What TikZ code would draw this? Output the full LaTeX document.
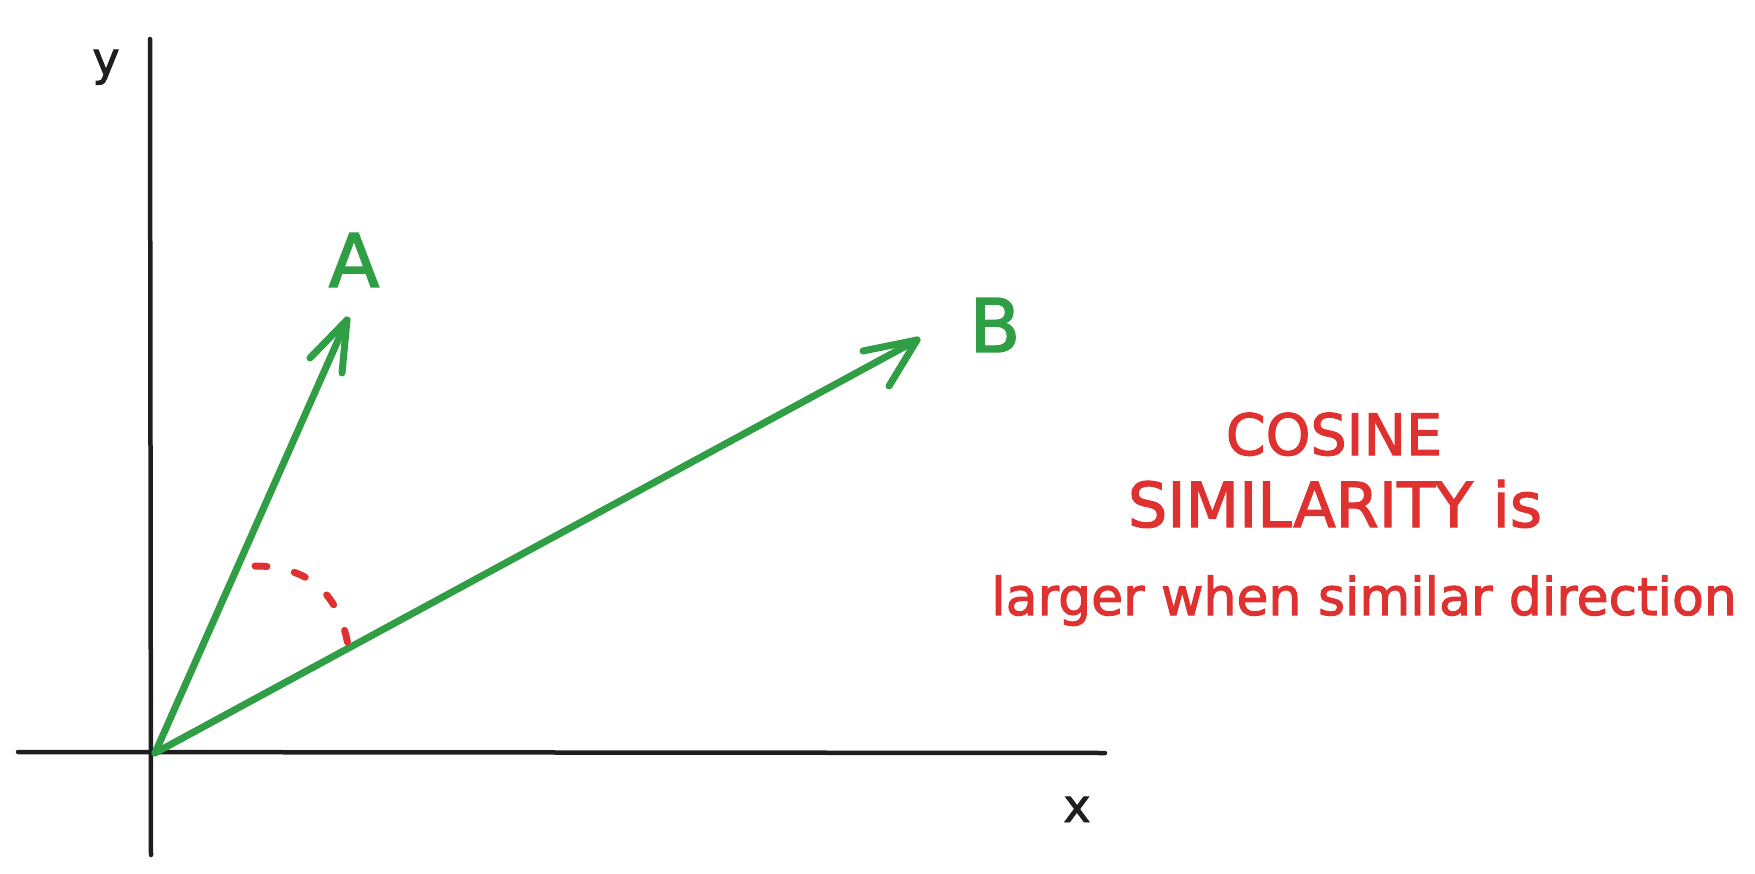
\documentclass[tikz,border=0pt]{standalone}
\usepackage{fontspec}
\setmainfont{DejaVu Sans}
\newfontfamily\handfont[FakeBold=2]{DejaVu Sans}
\definecolor{inkblack}{HTML}{1E1E1E}
\definecolor{inkgreen}{HTML}{2F9E44}
\definecolor{inkred}{HTML}{E03131}
\tikzset{
  axisline/.style={draw=inkblack, line width=4.5pt, line cap=round},
  vecline/.style={draw=inkgreen, line width=7pt, line cap=round, line join=round},
  anglearc/.style={draw=inkred, line width=7pt, line cap=round, dash pattern=on 12pt off 28pt},
  axislabel/.style={inner sep=0pt, anchor=base, text=inkblack, font=\handfont\fontsize{46}{50}\selectfont},
  veclabel/.style={inner sep=0pt, anchor=base, text=inkgreen, font=\handfont\fontsize{74}{80}\selectfont},
  note/.style={inner sep=0pt, anchor=base, text=inkred}
}
\begin{document}
\begin{tikzpicture}[x=1pt,y=-1pt]
\useasboundingbox (0,0) rectangle (1755,874);
% axes
\coordinate (ytop) at (150,39);
\coordinate (ybot) at (151,855);
\coordinate (xleft) at (18,752);
\coordinate (xright) at (1105,753);
\draw[axisline] (ybot) -- (ytop);
\draw[axisline] (xleft) -- (xright);
\node[axislabel] (ylab) at (106,75) {y};
\node[axislabel] (xlab) at (1077,822) {x};
% vectors
\coordinate (O) at (155,753);
\coordinate (Atip) at (347,320);
\coordinate (Abarb1) at (310,358);
\coordinate (Abarb2) at (342,373);
\coordinate (Btip) at (917,340);
\coordinate (Bbarb1) at (863,351);
\coordinate (Bbarb2) at (889,386);
\draw[vecline] (O) -- (Atip);
\draw[vecline] (Abarb1) -- (Atip) -- (Abarb2);
\draw[vecline] (O) -- (Btip);
\draw[vecline] (Bbarb1) -- (Btip) -- (Bbarb2);
\node[veclabel] (Alab) at (354,287) {A};
\node[veclabel] (Blab) at (995,352) {B};
% angle arc
\coordinate (arcA) at (255,566);
\coordinate (arcB) at (348,645);
\draw[anglearc] (arcA) .. controls (305,566) and (338,590) .. (arcB);
% note
\node[note, font=\handfont\fontsize{57}{60}\selectfont] (n1) at (1334,455) {COSINE};
\node[note, font=\handfont\fontsize{62}{66}\selectfont] (n2) at (1335,527) {SIMILARITY is};
\node[note, font=\handfont\fontsize{52}{56}\selectfont] (n3) at (1364,615) {larger when similar direction};
\end{tikzpicture}
\end{document}
